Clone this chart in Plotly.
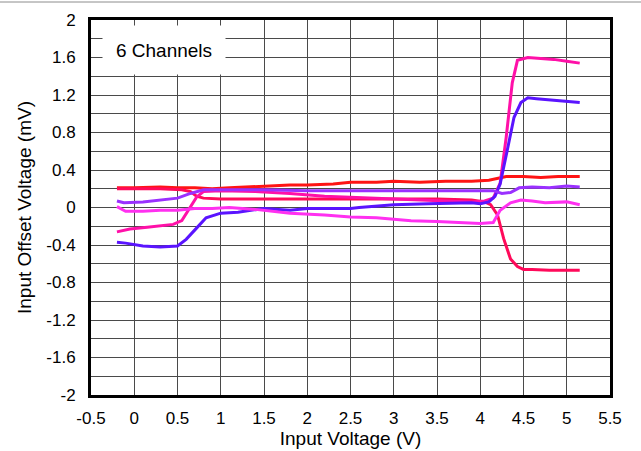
import plotly.graph_objects as go

# ---- measured offset voltage (mV) vs. input voltage (V), one pair of lists per channel ----
ch1_x = [-0.2, 0.0, 0.3, 0.5, 0.7, 0.9, 1.1, 1.3, 1.5, 1.8, 2.0, 2.3, 2.5, 2.8, 3.0, 3.3, 3.6, 3.9, 4.1, 4.2, 4.3, 4.5, 4.7, 4.9, 5.15]
ch1_y = [0.21, 0.21, 0.22, 0.21, 0.21, 0.20, 0.21, 0.22, 0.23, 0.24, 0.24, 0.25, 0.27, 0.27, 0.28, 0.27, 0.28, 0.28, 0.29, 0.31, 0.33, 0.33, 0.32, 0.33, 0.33]

ch2_x = [-0.2, 0.0, 0.3, 0.55, 0.65, 0.72, 0.8, 1.0, 1.5, 2.0, 2.5, 3.0, 3.5, 3.9, 4.05, 4.12, 4.2, 4.27, 4.35, 4.43, 4.5, 4.6, 4.8, 5.0, 5.15]
ch2_y = [0.20, 0.20, 0.20, 0.19, 0.17, 0.12, 0.10, 0.09, 0.09, 0.09, 0.09, 0.09, 0.09, 0.08, 0.06, 0.03, -0.08, -0.33, -0.55, -0.63, -0.66, -0.66, -0.67, -0.67, -0.67]

ch3_x = [-0.2, -0.05, 0.15, 0.45, 0.55, 0.6, 0.65, 0.72, 0.8, 1.0, 1.4, 1.8, 2.2, 2.5, 2.8, 3.2, 3.5, 3.9, 4.05, 4.15, 4.23, 4.3, 4.37, 4.43, 4.55, 4.7, 4.85, 5.0, 5.15]
ch3_y = [-0.26, -0.23, -0.21, -0.18, -0.14, -0.07, 0.01, 0.11, 0.17, 0.18, 0.17, 0.15, 0.12, 0.11, 0.10, 0.08, 0.07, 0.06, 0.07, 0.10, 0.26, 0.75, 1.33, 1.57, 1.60, 1.59, 1.58, 1.56, 1.54]

ch4_x = [-0.2, -0.1, 0.1, 0.3, 0.5, 0.6, 0.72, 0.83, 1.0, 1.2, 1.5, 1.8, 2.0, 2.5, 2.6, 3.0, 3.4, 3.9, 4.0, 4.1, 4.17, 4.23, 4.31, 4.39, 4.47, 4.55, 4.65, 4.8, 5.0, 5.15]
ch4_y = [-0.37, -0.38, -0.41, -0.42, -0.41, -0.34, -0.22, -0.11, -0.06, -0.05, -0.01, -0.03, -0.01, -0.01, 0.00, 0.03, 0.04, 0.05, 0.04, 0.06, 0.12, 0.25, 0.60, 0.96, 1.12, 1.17, 1.16, 1.15, 1.13, 1.12]

ch5_x = [-0.2, -0.12, 0.1, 0.3, 0.5, 0.65, 0.8, 1.0, 1.5, 2.0, 2.5, 3.0, 3.5, 4.0, 4.15, 4.25, 4.35, 4.45, 4.6, 4.8, 5.0, 5.15]
ch5_y = [0.07, 0.05, 0.06, 0.08, 0.10, 0.15, 0.19, 0.19, 0.19, 0.18, 0.18, 0.18, 0.18, 0.18, 0.18, 0.15, 0.16, 0.21, 0.22, 0.21, 0.23, 0.22]

ch6_x = [-0.2, -0.1, 0.1, 0.3, 0.5, 0.7, 0.9, 1.1, 1.4, 1.8, 2.2, 2.5, 2.8, 3.2, 3.5, 3.9, 4.0, 4.15, 4.23, 4.35, 4.47, 4.6, 4.75, 5.0, 5.15]
ch6_y = [0.01, -0.04, -0.04, -0.03, -0.03, -0.01, -0.01, 0.00, -0.02, -0.06, -0.08, -0.10, -0.11, -0.14, -0.15, -0.17, -0.17, -0.16, -0.03, 0.05, 0.08, 0.07, 0.05, 0.06, 0.03]

x_ticks = [-0.5, 0, 0.5, 1, 1.5, 2, 2.5, 3, 3.5, 4, 4.5, 5, 5.5]
y_ticks = [-2, -1.6, -1.2, -0.8, -0.4, 0, 0.4, 0.8, 1.2, 1.6, 2]

channels = [
    (ch1_x, ch1_y, "#ff1414"),
    (ch2_x, ch2_y, "#ff0a5a"),
    (ch3_x, ch3_y, "#ff10a8"),
    (ch4_x, ch4_y, "#5a14ff"),
    (ch5_x, ch5_y, "#9a30ff"),
    (ch6_x, ch6_y, "#ff30f0"),
]

FONT = "Arial, 'Liberation Sans', sans-serif"
GRID = "#4a4a4a"

fig = go.Figure()
for xs, ys, color in channels:
    fig.add_trace(go.Scatter(x=xs, y=ys, mode="lines",
                             line=dict(color=color, width=3),
                             showlegend=False, hoverinfo="skip"))

fig.update_layout(
    width=641, height=451,
    margin=dict(l=91, r=31, t=20, b=56),
    paper_bgcolor="white", plot_bgcolor="white",
    font=dict(family=FONT, size=16, color="black"),
    showlegend=False,
)

fig.update_xaxes(
    range=[-0.5, 5.5], tickvals=x_ticks,
    ticktext=[f"{v:g}" for v in x_ticks],
    showgrid=True, gridcolor=GRID, gridwidth=1.2,
    zeroline=False, automargin=False,
    showline=True, linecolor="black", linewidth=3, mirror=True,
    ticks="", ticklabelstandoff=6,
    tickfont=dict(size=17),
    title=dict(text="Input Voltage (V)", font=dict(size=19), standoff=4),
)
fig.update_yaxes(
    range=[-2, 2], tickvals=y_ticks,
    ticktext=[f"{v:g}" for v in y_ticks],
    showgrid=True, gridcolor=GRID, gridwidth=1.2,
    minor=dict(dtick=0.2, tick0=0, showgrid=True, gridcolor=GRID, gridwidth=1.2),
    zeroline=False, automargin=False,
    showline=True, linecolor="black", linewidth=3, mirror=True,
    ticks="", ticklabelstandoff=9,
    tickfont=dict(size=17),
    title=dict(text="Input Offset Voltage (mV)", font=dict(size=19), standoff=10),
)

# thin rule across the top of the page
fig.add_shape(type="line", xref="paper", yref="paper",
              x0=-91 / 518, x1=1 + 31 / 518, y0=1 + 18 / 375, y1=1 + 18 / 375,
              line=dict(color="#8c8c8c", width=1))

# label box in the upper-left corner
fig.add_annotation(
    text="6 Channels", xref="paper", yref="paper",
    x=(164 - 91) / 518, y=1 - (50 - 20) / 375,
    xanchor="center", yanchor="middle", showarrow=False,
    font=dict(size=19, family=FONT, color="black"),
    bgcolor="white", width=122, height=48, borderpad=0,
)

fig.write_html("out.html")
